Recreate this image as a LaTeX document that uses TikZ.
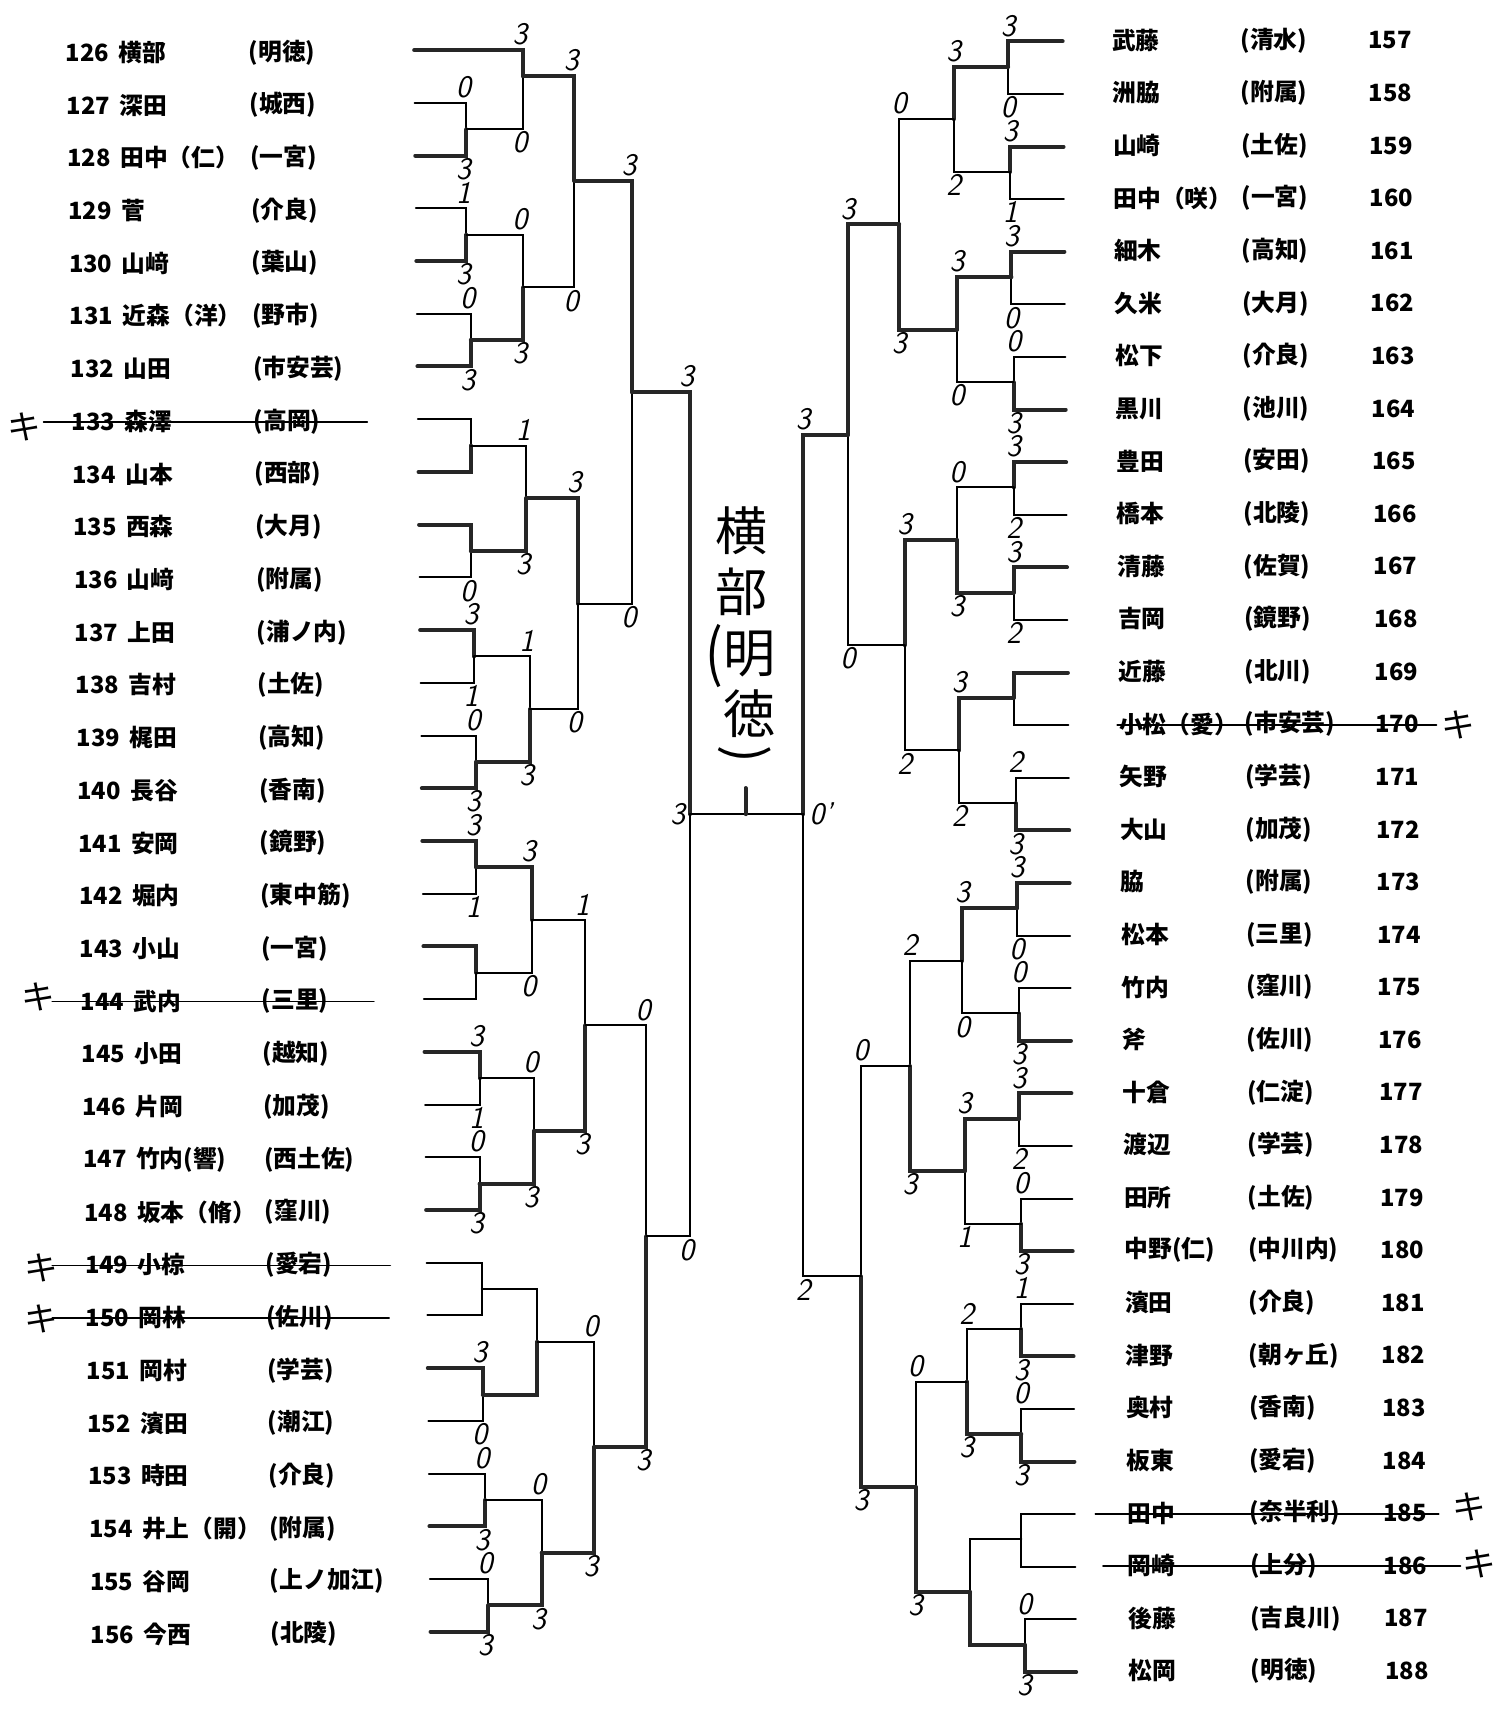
\documentclass[tikz,border=0pt]{standalone}
\usepackage{fontspec}
\newfontfamily\jp{Noto Sans CJK JP}
\usetikzlibrary{calc}
\tikzset{
  entry/.style  = {anchor=west, inner sep=0pt,
                   font=\jp\bfseries\fontsize{15.5}{16}\selectfont},
  score/.style  = {inner sep=0pt, font=\sffamily\itshape\fontsize{20.5}{20.5}\selectfont},
  sctop/.style  = {score, anchor=south, yshift=3pt},
  scbot/.style  = {score, anchor=north, yshift=-1.5pt},
  lose/.style   = {line width=1.3pt},
  win/.style    = {line width=2.6pt, black!85},
  strike/.style = {line width=1.1pt},
  kiken/.style  = {inner sep=0pt, font=\jp\fontsize{22}{22}\selectfont},
  hand/.style   = {inner sep=0pt, font=\jp\fontsize{34}{34}\selectfont},
}
% one bout: match, upper side, lower side, upper score, lower score, styles
\newcommand{\bout}[7]{%
  \draw[#6] (#2) -| (#1);
  \draw[#7] (#3) -| (#1);
  \if\relax\detokenize{#4}\relax\else\node[sctop] (t#1) at (#1 |- #2) {#4};\fi
  \if\relax\detokenize{#5}\relax\else\node[scbot] (u#1) at (#1 |- #3) {#5};\fi
}

\begin{document}
\begin{tikzpicture}[x=0.025cm, y=-0.025cm, line cap=round]

\path[fill=white, use as bounding box] (0,0) rectangle (1379,1568);

%% ─── Entries, left ───────────────────────────────────────────
\foreach \ent/\nam/\sch [count=\i from 0] in {
  126/横部/(明徳), 127/深田/(城西), 128/田中（仁）/(一宮), 129/菅/(介良),
  130/山﨑/(葉山), 131/近森（洋）/(野市), 132/山田/(市安芸), 133/森澤/(高岡),
  134/山本/(西部), 135/西森/(大月), 136/山﨑/(附属), 137/上田/(浦ノ内),
  138/吉村/(土佐), 139/梶田/(高知), 140/長谷/(香南), 141/安岡/(鏡野),
  142/堀内/(東中筋), 143/小山/(一宮), 144/武内/(三里), 145/小田/(越知),
  146/片岡/(加茂), 147/竹内(響)/(西土佐), 148/坂本（脩）/(窪川), 149/小椋/(愛宕),
  150/岡林/(佐川), 151/岡村/(学芸), 152/濱田/(潮江), 153/時田/(介良),
  154/井上（開）/(附属), 155/谷岡/(上ノ加江), 156/今西/(北陵)} {
  \node[entry] (n\ent) at ({60+0.77*\i},{48+48.37*\i}) {\ent\hspace{0.4em}\nam};
  \node[entry] (s\ent) at ({228+0.67*\i},{48+48.37*\i}) {\sch};
  \coordinate (l\ent) at ({380+0.5*\i},{46+48.37*\i});
}

%% ─── Entries, right ──────────────────────────────────────────
\foreach \ent/\nam/\sch [count=\k from 0] in {
  157/武藤/(清水), 158/洲脇/(附属), 159/山崎/(土佐), 160/田中（咲）/(一宮),
  161/細木/(高知), 162/久米/(大月), 163/松下/(介良), 164/黒川/(池川),
  165/豊田/(安田), 166/橋本/(北陵), 167/清藤/(佐賀), 168/吉岡/(鏡野),
  169/近藤/(北川), 170/小松（愛）/(市安芸), 171/矢野/(学芸), 172/大山/(加茂),
  173/脇/(附属), 174/松本/(三里), 175/竹内/(窪川), 176/斧/(佐川),
  177/十倉/(仁淀), 178/渡辺/(学芸), 179/田所/(土佐), 180/中野(仁)/(中川内),
  181/濱田/(介良), 182/津野/(朝ヶ丘), 183/奥村/(香南), 184/板東/(愛宕),
  185/田中/(奈半利), 186/岡崎/(上分), 187/後藤/(吉良川), 188/松岡/(明徳)} {
  \node[entry] (n\ent) at ({1020+0.5*\k},{37+48.26*\k}) {\nam};
  \node[entry] (s\ent) at ({1138+0.3*\k},{37+48.26*\k}) {\sch};
  \node[entry] (m\ent) at ({1255+0.5*\k},{37+48.26*\k}) {\ent};
  \coordinate (l\ent) at ({975+0.4*\k},{38+48.26*\k});
}

%% ─── Withdrawn (キ) ──────────────────────────────────────────
\draw[strike] (40,387) -- (337,387);
\draw[strike] (48,919) -- (343,919);
\draw[strike] (48,1161) -- (358,1161);
\draw[strike] (48,1209) -- (357,1209);
\draw[strike] (1025,665) -- (1318,665);
\draw[strike] (1005,1389) -- (1320,1389);
\draw[strike] (1012,1437) -- (1340,1437);
\node[kiken] (k133) at (22,392) {キ};
\node[kiken] (k144) at (35,915) {キ};
\node[kiken] (k149) at (38,1163) {キ};
\node[kiken] (k150) at (38,1210) {キ};
\node[kiken] (k170) at (1338,665) {キ};
\node[kiken] (k185) at (1348,1383) {キ};
\node[kiken] (k186) at (1357,1435) {キ};

%% ─── Match points, left ──────────────────────────────────────
\coordinate (a1) at (428,118.6);  \coordinate (a2) at (480,70);
\coordinate (a3) at (428,215.3);  \coordinate (a4) at (432,312);
\coordinate (a5) at (480,263.7);  \coordinate (a6) at (527,166);
\coordinate (b1) at (432,408.8);  \coordinate (b2) at (432,505.5);
\coordinate (b3) at (483,457);    \coordinate (b4) at (435,602.3);
\coordinate (b5) at (437,699);    \coordinate (b6) at (486,650.7);
\coordinate (b7) at (530,553.8);  \coordinate (ab) at (580,360);
\coordinate (c1) at (437,795.8);  \coordinate (c2) at (437,892.5);
\coordinate (c3) at (488,844);    \coordinate (c4) at (440,989.2);
\coordinate (c5) at (440,1086);   \coordinate (c6) at (490,1037.6);
\coordinate (c7) at (537,940.8);
\coordinate (d1) at (442,1182.7); \coordinate (d2) at (443,1279.5);
\coordinate (d3) at (493,1231);   \coordinate (d4) at (445,1376.2);
\coordinate (d5) at (448,1473);   \coordinate (d6) at (497,1424.6);
\coordinate (d7) at (545,1327.8); \coordinate (cd) at (593,1134.3);
\coordinate (L)  at (633,747);

%% ─── Match points, right ─────────────────────────────────────
\coordinate (e1) at (925,61.2);   \coordinate (e2) at (927,157.7);
\coordinate (e3) at (875,109.4);  \coordinate (e4) at (928,254.2);
\coordinate (e5) at (930,350.7);  \coordinate (e6) at (878,302.4);
\coordinate (e7) at (825,205.9);
\coordinate (f1) at (930,447.2);  \coordinate (f2) at (930,543.7);
\coordinate (f3) at (878,495.5);  \coordinate (f4) at (930,640.3);
\coordinate (f5) at (932,736.8);  \coordinate (f6) at (880,688.5);
\coordinate (f7) at (830,592);    \coordinate (ef) at (778,399);
\coordinate (g1) at (933,833.3);  \coordinate (g2) at (935,929.8);
\coordinate (g3) at (883,881.6);  \coordinate (g4) at (935,1026.3);
\coordinate (g5) at (937,1122.9); \coordinate (g6) at (885,1074.6);
\coordinate (g7) at (835,978.1);
\coordinate (h1) at (937,1219.4); \coordinate (h2) at (937,1315.9);
\coordinate (h3) at (887,1267.6); \coordinate (h4) at (937,1412.4);
\coordinate (h5) at (940,1509);   \coordinate (h6) at (890,1460.7);
\coordinate (h7) at (840,1364.1); \coordinate (gh) at (790,1171.1);
\coordinate (R)  at (737,747);

%% ─── Left half ───────────────────────────────────────────────
\begin{scope}[score/.append style={xshift=-2pt}]
\bout{a1}{l127}{l128}{0}{3}{lose}{win}
\bout{a2}{l126}{a1}{3}{0}{win}{lose}
\bout{a3}{l129}{l130}{1}{3}{lose}{win}
\bout{a4}{l131}{l132}{0}{3}{lose}{win}
\bout{a5}{a3}{a4}{0}{3}{lose}{win}
\bout{a6}{a2}{a5}{3}{0}{win}{lose}
\bout{b1}{l133}{l134}{}{}{lose}{win}
\bout{b2}{l135}{l136}{}{0}{win}{lose}
\bout{b3}{b1}{b2}{1}{3}{lose}{win}
\bout{b4}{l137}{l138}{3}{1}{win}{lose}
\bout{b5}{l139}{l140}{0}{3}{lose}{win}
\bout{b6}{b4}{b5}{1}{3}{lose}{win}
\bout{b7}{b3}{b6}{3}{0}{win}{lose}
\bout{ab}{a6}{b7}{3}{0}{win}{lose}
\bout{c1}{l141}{l142}{3}{1}{win}{lose}
\bout{c2}{l143}{l144}{}{}{win}{lose}
\bout{c3}{c1}{c2}{3}{0}{win}{lose}
\bout{c4}{l145}{l146}{3}{1}{win}{lose}
\bout{c5}{l147}{l148}{0}{3}{lose}{win}
\bout{c6}{c4}{c5}{0}{3}{lose}{win}
\bout{c7}{c3}{c6}{1}{3}{lose}{win}
\bout{d1}{l149}{l150}{}{}{lose}{lose}
\bout{d2}{l151}{l152}{3}{0}{win}{lose}
\bout{d3}{d1}{d2}{}{}{lose}{win}
\bout{d4}{l153}{l154}{0}{3}{lose}{win}
\bout{d5}{l155}{l156}{0}{3}{lose}{win}
\bout{d6}{d4}{d5}{0}{3}{lose}{win}
\bout{d7}{d3}{d6}{0}{3}{lose}{win}
\bout{cd}{c7}{d7}{0}{3}{lose}{win}
\bout{L}{ab}{cd}{3}{0}{win}{lose}
\end{scope}

%% ─── Right half ──────────────────────────────────────────────
\bout{e1}{l157}{l158}{3}{0}{win}{lose}
\bout{e2}{l159}{l160}{3}{1}{win}{lose}
\bout{e3}{e1}{e2}{3}{2}{win}{lose}
\bout{e4}{l161}{l162}{3}{0}{win}{lose}
\bout{e5}{l163}{l164}{0}{3}{lose}{win}
\bout{e6}{e4}{e5}{3}{0}{win}{lose}
\bout{e7}{e3}{e6}{0}{3}{lose}{win}
\bout{f1}{l165}{l166}{3}{2}{win}{lose}
\bout{f2}{l167}{l168}{3}{2}{win}{lose}
\bout{f3}{f1}{f2}{0}{3}{lose}{win}
\bout{f4}{l169}{l170}{}{}{win}{lose}
\bout{f5}{l171}{l172}{2}{3}{lose}{win}
\bout{f6}{f4}{f5}{3}{2}{win}{lose}
\bout{f7}{f3}{f6}{3}{2}{win}{lose}
\bout{ef}{e7}{f7}{3}{0}{win}{lose}
\bout{g1}{l173}{l174}{3}{0}{win}{lose}
\bout{g2}{l175}{l176}{0}{3}{lose}{win}
\bout{g3}{g1}{g2}{3}{0}{win}{lose}
\bout{g4}{l177}{l178}{3}{2}{win}{lose}
\bout{g5}{l179}{l180}{0}{3}{lose}{win}
\bout{g6}{g4}{g5}{3}{1}{win}{lose}
\bout{g7}{g3}{g6}{2}{3}{lose}{win}
\bout{h1}{l181}{l182}{1}{3}{lose}{win}
\bout{h2}{l183}{l184}{0}{3}{lose}{win}
\bout{h3}{h1}{h2}{2}{3}{lose}{win}
\bout{h4}{l185}{l186}{}{}{lose}{lose}
\bout{h5}{l187}{l188}{0}{3}{lose}{win}
\bout{h6}{h4}{h5}{}{}{lose}{win}
\bout{h7}{h3}{h6}{0}{3}{lose}{win}
\bout{gh}{g7}{h7}{0}{3}{lose}{win}
\bout{R}{ef}{gh}{3}{2}{win}{lose}

%% ─── Final ───────────────────────────────────────────────────
\draw[lose] (L) -- (R);
\coordinate (tick) at (684,747);
\draw[win] (tick) -- ++(0,-24);
\node[score, anchor=east, xshift=-3pt] (fsL) at (L) {3};
\node[score, anchor=west, xshift=4pt] (fsR) at (R) {0'};

\node[hand] (ch1) at (680,487) {横};
\node[hand] (ch2) at (680,543) {部};
\node[hand, yscale=1.2] (ch3) at (655,602) {(};
\node[hand] (ch4) at (688,600) {明};
\node[hand] (ch5) at (688,655) {徳};
\node[hand, rotate=-90] (ch6) at (683,692) {)};

\end{tikzpicture}
\end{document}
